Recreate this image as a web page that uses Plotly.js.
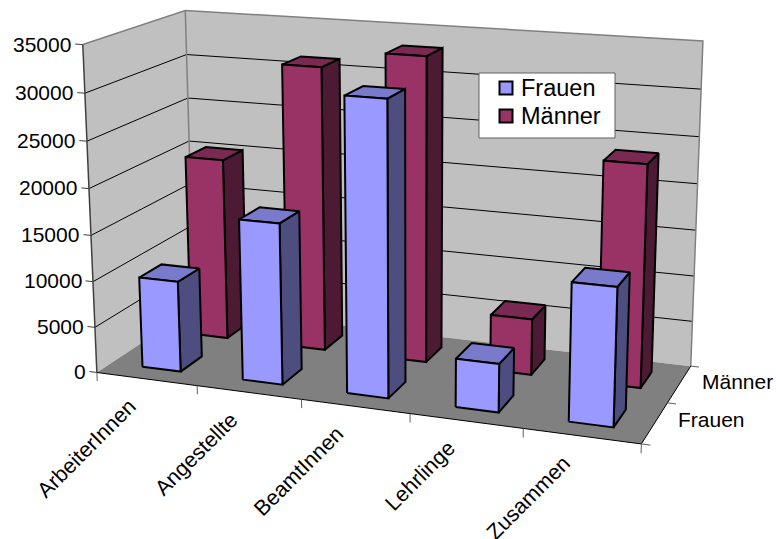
<!DOCTYPE html>
<html>
<head>
<meta charset="utf-8">
<script src="https://cdn.plot.ly/plotly-3.0.1.min.js"></script>
<style>html,body{margin:0;padding:0;background:#fff}#chart{width:776px;height:539px}</style>
</head>
<body>
<div id="chart"></div>
<script>
// Beschäftigte nach Gruppe und Geschlecht
var categories = ['ArbeiterInnen', 'Angestellte', 'BeamtInnen', 'Lehrlinge', 'Zusammen'];
var seriesNames = ['Frauen', 'Männer'];
var frauen = [9900, 17300, 31000, 5100, 14300];
var maenner = [20300, 31300, 33200, 6100, 23700];
var valueTicks = [0, 5000, 10000, 15000, 20000, 25000, 30000, 35000];
var valueMax = 35000;

var fills = {
  Frauen: {front: '#9999FF', side: '#4D4D80', top: '#7A7ACC'},
  'Männer': {front: '#993366', side: '#4D1A33', top: '#7A2952'}
};

// Box corners [u, v, w] with their position on the page; the camera is fitted to them.
var anchors = [
  [0, 0, 0, 97, 373], [1, 0, 0, 641, 444], [0, 1, 0, 194, 308], [1, 1, 0, 691, 366],
  [0, 0, 1, 83, 44], [0, 1, 1, 185, 11], [1, 1, 1, 703, 41]
];

// Least-squares fit of an 11-parameter projective camera.
function fitCamera(pts) {
  var n = 11, A = [], b = [], i, j, k;
  for (i = 0; i < n; i++) { A.push(new Array(n).fill(0)); b.push(0); }
  function add(row, rhs) {
    for (var r = 0; r < n; r++) {
      b[r] += row[r] * rhs;
      for (var c = 0; c < n; c++) A[r][c] += row[r] * row[c];
    }
  }
  pts.forEach(function (p) {
    var u = p[0], v = p[1], w = p[2], x = p[3], y = p[4];
    add([u, v, w, 1, 0, 0, 0, 0, -x * u, -x * v, -x * w], x);
    add([0, 0, 0, 0, u, v, w, 1, -y * u, -y * v, -y * w], y);
  });
  for (i = 0; i < n; i++) A[i][i] += 1e-9;
  for (i = 0; i < n; i++) {
    var piv = i;
    for (j = i + 1; j < n; j++) if (Math.abs(A[j][i]) > Math.abs(A[piv][i])) piv = j;
    var t = A[i]; A[i] = A[piv]; A[piv] = t;
    var tb = b[i]; b[i] = b[piv]; b[piv] = tb;
    for (j = i + 1; j < n; j++) {
      var f = A[j][i] / A[i][i];
      for (k = i; k < n; k++) A[j][k] -= f * A[i][k];
      b[j] -= f * b[i];
    }
  }
  var s = new Array(n).fill(0);
  for (i = n - 1; i >= 0; i--) {
    var acc = b[i];
    for (k = i + 1; k < n; k++) acc -= A[i][k] * s[k];
    s[i] = acc / A[i][i];
  }
  return s;
}

var cam = fitCamera(anchors);
function project(u, v, w) {
  var d = cam[8] * u + cam[9] * v + cam[10] * w + 1;
  return [
    (cam[0] * u + cam[1] * v + cam[2] * w + cam[3]) / d,
    (cam[4] * u + cam[5] * v + cam[6] * w + cam[7]) / d
  ];
}

var traces = [];
function path(points, opts) {
  var pr = points.map(function (p) { return project(p[0], p[1], p[2]); });
  var t = {
    x: pr.map(function (p) { return p[0]; }),
    y: pr.map(function (p) { return p[1]; }),
    type: 'scatter', mode: 'lines', showlegend: false, hoverinfo: 'skip',
    line: {color: opts.line || 'rgba(0,0,0,0)', width: opts.width === undefined ? 1 : opts.width}
  };
  if (opts.fill) { t.fill = 'toself'; t.fillcolor = opts.fill; }
  traces.push(t);
}

// Walls and floor
path([[0, 0, 0], [0, 1, 0], [0, 1, 1], [0, 0, 1], [0, 0, 0]], {fill: '#C0C0C0'});
path([[0, 1, 0], [1, 1, 0], [1, 1, 1], [0, 1, 1], [0, 1, 0]], {fill: '#C0C0C0'});
path([[0, 0, 0], [1, 0, 0], [1, 1, 0], [0, 1, 0], [0, 0, 0]], {fill: '#808080'});

// Gridlines across both walls
valueTicks.forEach(function (val) {
  if (val === 0 || val === valueMax) return;
  var w = val / valueMax;
  path([[0, 0, w], [0, 1, w], [1, 1, w]], {line: '#000000', width: 1});
});

// Wall edges
path([[0, 0, 1], [0, 1, 1], [1, 1, 1], [1, 1, 0]], {line: '#808080', width: 1.5});
path([[0, 1, 0], [0, 1, 1]], {line: '#808080', width: 1.5});
path([[0, 0, 0], [0, 0, 1]], {line: '#404040', width: 1.5});
path([[0, 0, 0], [1, 0, 0], [1, 1, 0]], {line: '#000000', width: 1});

// Axis tick marks
valueTicks.forEach(function (val) {
  path([[-0.015, 0, val / valueMax], [0, 0, val / valueMax]], {line: '#404040', width: 1});
});
for (var c = 0; c <= categories.length; c++) {
  path([[c / categories.length, 0, 0], [c / categories.length, 0, -0.027]], {line: '#606060', width: 1});
}
[0, 0.5, 1].forEach(function (v) {
  path([[1, v, 0], [1.015, v, 0]], {line: '#606060', width: 1});
});

// Columns, back row first
function column(i, row, value, colors) {
  var n = categories.length;
  var u0 = (i + 0.315) / n, u1 = (i + 0.70) / n;
  var v0 = (row + 0.28) / 2, v1 = (row + 0.72) / 2;
  var w = value / valueMax;
  var edge = {line: '#000000', width: 2};
  path([[u1, v0, 0], [u1, v1, 0], [u1, v1, w], [u1, v0, w], [u1, v0, 0]], {fill: colors.side, line: edge.line, width: edge.width});
  path([[u0, v0, w], [u1, v0, w], [u1, v1, w], [u0, v1, w], [u0, v0, w]], {fill: colors.top, line: edge.line, width: edge.width});
  path([[u0, v0, 0], [u1, v0, 0], [u1, v0, w], [u0, v0, w], [u0, v0, 0]], {fill: colors.front, line: edge.line, width: edge.width});
}
maenner.forEach(function (val, i) { column(i, 1, val, fills['Männer']); });
frauen.forEach(function (val, i) { column(i, 0, val, fills.Frauen); });

// Legend panel with one swatch per series
var legendBox = {left: 479, right: 615, top: 73, bottom: 138};
var legendRows = [{name: 'Frauen', y: 88}, {name: 'Männer', y: 116}];
traces.push({
  x: [legendBox.left, legendBox.right, legendBox.right, legendBox.left, legendBox.left],
  y: [legendBox.top, legendBox.top, legendBox.bottom, legendBox.bottom, legendBox.top],
  type: 'scatter', mode: 'lines', fill: 'toself', fillcolor: '#FFFFFF',
  line: {color: '#606060', width: 1}, showlegend: false, hoverinfo: 'skip'
});
legendRows.forEach(function (row) {
  traces.push({
    x: [506], y: [row.y], type: 'scatter', mode: 'markers', name: row.name, showlegend: false, hoverinfo: 'skip',
    marker: {symbol: 'square', size: 13, color: fills[row.name].front, line: {color: '#000000', width: 2}}
  });
});

// Axis labels
var sans = '"Liberation Sans", Arial, sans-serif';
var labelFont = {family: sans, size: 21, color: '#000000'};
var slantFont = {family: sans, size: 21.5, color: '#000000'};
var annotations = [];
valueTicks.forEach(function (val) {
  var p = project(-0.015, 0, val / valueMax);
  annotations.push({x: p[0], y: p[1], xref: 'x', yref: 'y', text: String(val), showarrow: false,
    xanchor: 'right', yanchor: 'middle', xshift: -2, font: labelFont});
});
categories.forEach(function (name, i) {
  var p = project((i + 0.5) / categories.length, 0, 0);
  annotations.push({x: p[0], y: p[1], xref: 'x', yref: 'y', text: name, showarrow: false, textangle: -45,
    xanchor: 'right', yanchor: 'top', xshift: -5, yshift: -14, font: slantFont, borderpad: 0});
});
seriesNames.forEach(function (name, r) {
  var p = project(1, (r + 0.5) / 2, 0);
  annotations.push({x: p[0], y: p[1], xref: 'x', yref: 'y', text: name, showarrow: false,
    xanchor: 'left', yanchor: 'middle', xshift: 21, yshift: 3, font: labelFont});
});
legendRows.forEach(function (row) {
  annotations.push({x: 519, y: row.y, xref: 'x', yref: 'y', text: row.name, showarrow: false,
    xanchor: 'left', yanchor: 'middle', font: {family: sans, size: 23.5, color: '#000000'}});
});

var layout = {
  width: 776, height: 539,
  margin: {l: 0, r: 0, t: 0, b: 0},
  paper_bgcolor: '#FFFFFF', plot_bgcolor: '#FFFFFF',
  xaxis: {range: [0, 776], visible: false, fixedrange: true},
  yaxis: {range: [539, 0], visible: false, fixedrange: true},
  annotations: annotations,
  showlegend: false
};
Plotly.newPlot('chart', traces, layout, {displayModeBar: false, staticPlot: true});
</script>
</body>
</html>
